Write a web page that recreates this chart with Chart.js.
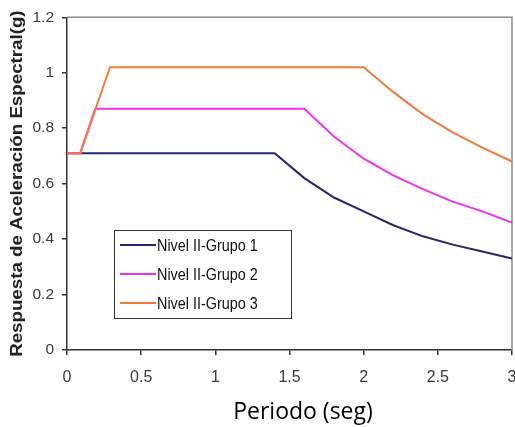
<!DOCTYPE html>
<html>
<head>
<meta charset="utf-8">
<script src="https://cdn.jsdelivr.net/npm/chart.js@4/dist/chart.umd.min.js"></script>
<style>
  html, body { margin: 0; padding: 0; background: #fff; }
  #wrap { position: relative; width: 515px; height: 427px; }
</style>
</head>
<body>
<div id="wrap"><canvas id="c" width="515" height="427"></canvas></div>
<script>
// Espectros de respuesta de aceleración, Nivel II
const nombres = ['Nivel II-Grupo 1', 'Nivel II-Grupo 2', 'Nivel II-Grupo 3'];
const colores = ['#262672', '#ee33ee', '#f27a3c'];

// Grupo 1
const periodo1 = [0, 1.4, 1.6, 1.8, 2.0, 2.2, 2.4, 2.6, 2.8, 3.0];
const acel1    = [0.71, 0.71, 0.62, 0.55, 0.50, 0.45, 0.41, 0.38, 0.355, 0.33];
// Grupo 2
const periodo2 = [0, 0.09, 0.19, 1.6, 1.8, 2.0, 2.2, 2.4, 2.6, 2.8, 3.0];
const acel2    = [0.71, 0.71, 0.87, 0.87, 0.77, 0.69, 0.63, 0.58, 0.535, 0.50, 0.46];
// Grupo 3
const periodo3 = [0, 0.09, 0.29, 2.0, 2.2, 2.4, 2.6, 2.8, 3.0];
const acel3    = [0.71, 0.71, 1.02, 1.02, 0.93, 0.85, 0.785, 0.73, 0.68];

const xTicks = [0, 0.5, 1, 1.5, 2, 2.5, 3];
const yTicks = [0, 0.2, 0.4, 0.6, 0.8, 1, 1.2];

const tituloEjeX = 'Periodo (seg)';
const tituloEjeY = 'Respuesta de Aceleración Espectral(g)';

const toPoints = (xs, ys) => xs.map((x, i) => ({ x: x, y: ys[i] }));

// Recuadro gris (bordes superior y derecho) del área de trazado
const marco = {
  id: 'marco',
  beforeDatasetsDraw(chart) {
    const { ctx, chartArea: a } = chart;
    ctx.save();
    ctx.strokeStyle = '#8a8a8a';
    ctx.lineWidth = 1.5;
    ctx.beginPath();
    ctx.moveTo(a.left, a.top);
    ctx.lineTo(a.right, a.top);
    ctx.lineTo(a.right, a.bottom);
    ctx.stroke();
    ctx.restore();
  }
};

// Leyenda con recuadro dentro del área de trazado
const leyenda = {
  id: 'leyenda',
  afterDatasetsDraw(chart) {
    const { ctx } = chart;
    const bx = 114, by = 230, bw = 177, bh = 88;
    ctx.save();
    ctx.fillStyle = '#fff';
    ctx.fillRect(bx, by, bw, bh);
    ctx.strokeStyle = '#333';
    ctx.lineWidth = 1;
    ctx.strokeRect(bx + 0.5, by + 0.5, bw, bh);
    ctx.font = '15px "Liberation Sans", Arial, sans-serif';
    ctx.textBaseline = 'middle';
    ctx.fillStyle = '#111';
    chart.data.datasets.forEach((ds, i) => {
      const y = by + 15 + i * 29;
      ctx.strokeStyle = ds.borderColor;
      ctx.lineWidth = 2;
      ctx.beginPath();
      ctx.moveTo(120, y);
      ctx.lineTo(156, y);
      ctx.stroke();
      ctx.save();
      ctx.translate(157, y + 1);
      ctx.scale(0.96, 1.12);
      ctx.fillText(ds.label, 0, 0);
      ctx.restore();
    });
    ctx.restore();
  }
};

// Títulos de los ejes
const titulos = {
  id: 'titulos',
  afterDraw(chart) {
    const { ctx, chartArea: a } = chart;
    ctx.save();
    ctx.font = '23px "Open Sans", sans-serif';
    ctx.fillStyle = '#000';
    ctx.textAlign = 'center';
    ctx.textBaseline = 'middle';
    ctx.fillText(tituloEjeX, 303, 412);
    ctx.restore();

    ctx.save();
    ctx.translate(18, (a.top + a.bottom) / 2);
    ctx.rotate(-Math.PI / 2);
    ctx.scale(1.17, 1);
    ctx.font = 'bold 16px "Liberation Sans", Arial, sans-serif';
    ctx.fillStyle = '#222';
    ctx.textAlign = 'center';
    ctx.textBaseline = 'middle';
    ctx.fillText(tituloEjeY, 0, 0);
    ctx.restore();
  }
};

const fam = '"Liberation Sans", Arial, sans-serif';

new Chart(document.getElementById('c'), {
  type: 'line',
  data: {
    datasets: [
      { label: nombres[0], data: toPoints(periodo1, acel1), borderColor: colores[0], order: 3 },
      { label: nombres[1], data: toPoints(periodo2, acel2), borderColor: colores[1], order: 2 },
      { label: nombres[2], data: toPoints(periodo3, acel3), borderColor: colores[2], order: 1 }
    ].map(d => Object.assign(d, { borderWidth: 2, pointRadius: 0, fill: false, tension: 0 }))
  },
  options: {
    responsive: false,
    animation: false,
    events: [],
    layout: { padding: { left: 0, right: 3, top: 17, bottom: 0 } },
    plugins: { legend: { display: false }, tooltip: { enabled: false } },
    scales: {
      x: {
        type: 'linear',
        min: 0, max: 3,
        afterBuildTicks: s => { s.ticks = xTicks.map(v => ({ value: v })); },
        afterFit: s => { s.height = 77; s.paddingLeft = 0; s.paddingRight = 0; },
        ticks: { font: { family: fam, size: 16 }, color: '#3a3a3a', padding: 13, maxRotation: 0,
                 callback: v => String(v) },
        grid: { display: true, drawOnChartArea: false, drawTicks: true, tickLength: 5, color: '#333', lineWidth: 1.5 },
        border: { display: true, color: '#333', width: 1.5 }
      },
      y: {
        type: 'linear',
        min: 0, max: 1.2,
        afterBuildTicks: s => { s.ticks = yTicks.map(v => ({ value: v })); },
        afterFit: s => { s.width = 67; },
        ticks: { font: { family: fam, size: 15.5 }, color: '#3a3a3a', padding: 8,
                 callback: v => String(v) },
        grid: { display: true, drawOnChartArea: false, drawTicks: true, tickLength: 5, color: '#333', lineWidth: 1.5 },
        border: { display: true, color: '#333', width: 1.5 }
      }
    }
  },
  plugins: [marco, leyenda, titulos]
});
</script>
</body>
</html>
